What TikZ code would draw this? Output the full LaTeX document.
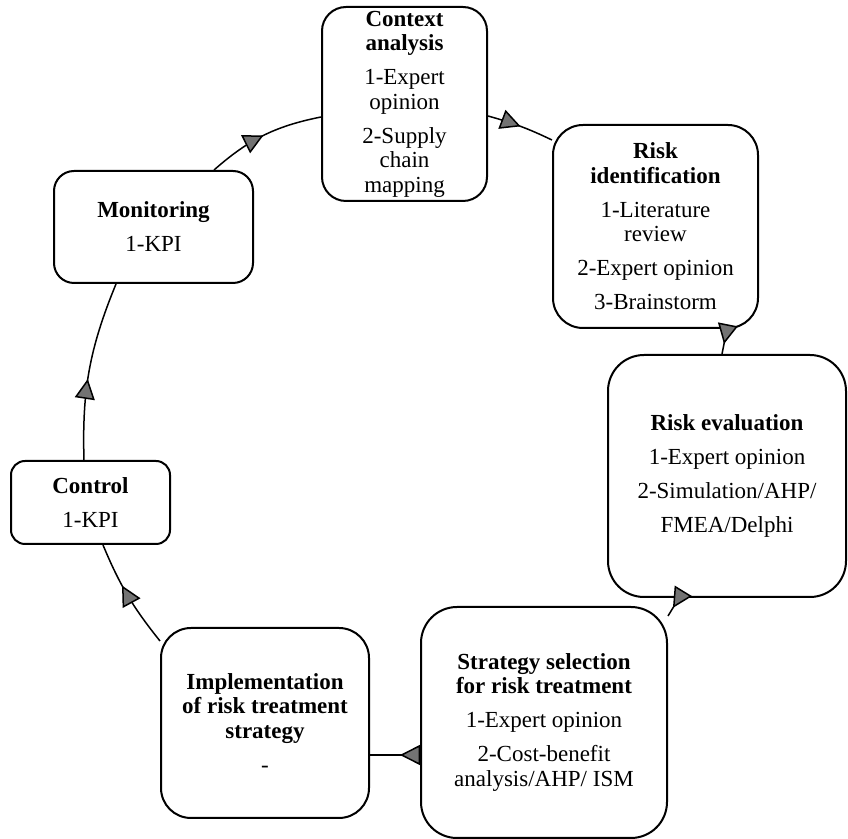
\documentclass[tikz,border=0pt]{standalone}
\usepackage{fontspec}
\setmainfont{Liberation Serif}
\usepackage{tikz}
\usetikzlibrary{arrows.meta,decorations.markings}

\newcommand{\hd}[1]{\textbf{#1}}

\tikzset{
  box/.style={draw, line width=1pt, rounded corners=#1, align=center, inner sep=0pt,
    font=\fontsize{11.5}{12.25}\selectfont},
  box/.default=12pt,
  flow/.style={line width=0.75pt, postaction={decorate},
    decoration={markings, mark=at position #1 with {\arrow{Triangle[length=10pt,width=10pt,fill=black!55]}}}},
  flow/.default=0.5
}

\begin{document}
\begin{tikzpicture}[x=0.5pt,y=-0.5pt]
\useasboundingbox (0,0) rectangle (848,839);

% stages of the cycle
\node[box=12pt, minimum width=82.5pt, minimum height=97pt] (ctx) at (404.5,104)
  {\hd{Context}\\\hd{analysis}\\[4.75pt]1-Expert\\opinion\\[4.75pt]2-Supply\\chain\\mapping};
\node[box=15pt, minimum width=102.5pt, minimum height=101.5pt] (rid) at (655.5,226.5)
  {\hd{Risk}\\\hd{identification}\\[4.75pt]1-Literature\\review\\[4.75pt]2-Expert opinion\\[4.75pt]3-Brainstorm};
\node[box=18pt, minimum width=119pt, minimum height=121pt] (rev) at (727,476)
  {\hd{Risk evaluation}\\[4.75pt]1-Expert opinion\\[4.75pt]2-Simulation/AHP/\\[4.75pt]FMEA/Delphi};
\node[box=18pt, minimum width=123pt, minimum height=115.5pt] (str) at (544,722.5)
  {\hd{Strategy selection}\\\hd{for risk treatment}\\[4.75pt]1-Expert opinion\\[4.75pt]2-Cost-benefit\\analysis/AHP/ ISM};
\node[box=15pt, minimum width=104pt, minimum height=95pt] (imp) at (265,723)
  {\hd{Implementation}\\\hd{of risk treatment}\\\hd{strategy}\\[5pt]-};
\node[box=7pt, minimum width=79.5pt, minimum height=41.5pt] (ctl) at (90.5,502.5)
  {\hd{Control}\\[4.75pt]1-KPI};
\node[box=10pt, minimum width=99.5pt, minimum height=56pt] (mon) at (153.5,227)
  {\hd{Monitoring}\\[4.75pt]1-KPI};

% connectors
\draw[flow=0.5] ([xshift=-20pt]mon.north east) to[bend left=15] ([yshift=-6.5pt]ctx.west);
\draw[flow=0.5] ([yshift=-6pt]ctx.east) to[bend left=5] ([yshift=-8pt]rid.north west);
\draw[flow=0.6] ([xshift=35.75pt]rid.south) -- ([xshift=-2.5pt]rev.north);
\draw[flow=0.55] ([xshift=-24pt]rev.south) -- ([yshift=-5pt]str.north east);
\draw[flow=0.4] ([yshift=-16.25pt]str.west) -- ([yshift=-16pt]imp.east);
\draw[flow=0.6] ([yshift=-7pt]imp.north west) to[bend left=8] ([xshift=6.25pt]ctl.south);
\draw[flow=0.45] ([xshift=-3.25pt]ctl.north) to[bend left=12] ([xshift=-18.75pt]mon.south);
\end{tikzpicture}
\end{document}
